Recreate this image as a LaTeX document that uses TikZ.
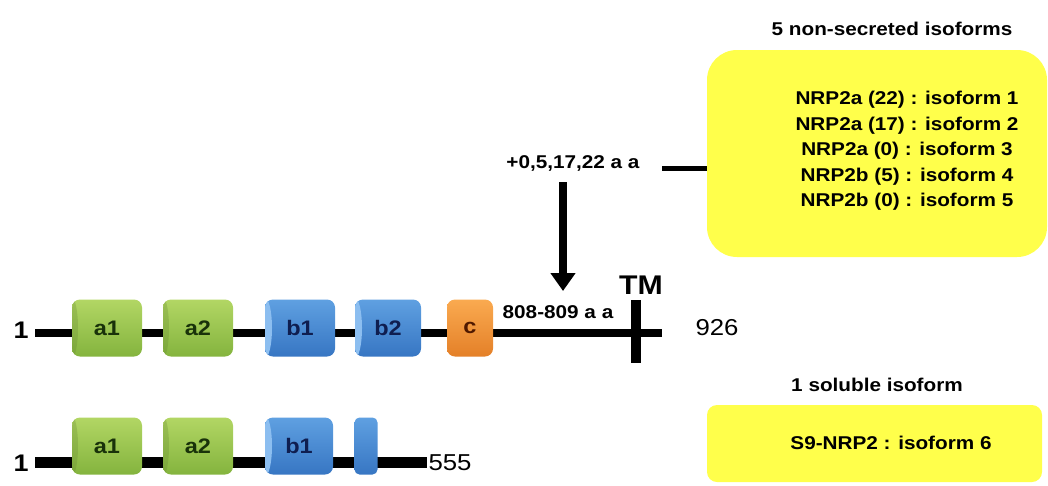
\documentclass[tikz,border=0pt]{standalone}
\usepackage{fontspec}
\setmainfont{Liberation Sans}[FakeStretch=1.12]
\usetikzlibrary{arrows.meta}
\definecolor{grT}{RGB}{178,214,100}
\definecolor{grB}{RGB}{132,180,62}
\definecolor{grTxt}{RGB}{25,50,10}
\definecolor{blT}{RGB}{95,160,225}
\definecolor{blB}{RGB}{55,118,195}
\definecolor{blHi}{RGB}{140,190,240}
\definecolor{blTxt}{RGB}{15,30,80}
\definecolor{orT}{RGB}{250,170,80}
\definecolor{orB}{RGB}{228,128,40}
\definecolor{orTxt}{RGB}{80,25,0}
\definecolor{yel}{RGB}{255,255,75}
\tikzset{
  dom/.style={draw=none, rounded corners=8pt, minimum height=57pt, inner sep=0pt,
    font=\bfseries\fontsize{21}{21}\selectfont},
  gdom/.style={dom, top color=grT, bottom color=grB, text=grTxt,
    path picture={\fill[grB!70!black, opacity=0.25] (path picture bounding box.west) ellipse (6pt and 30pt);}},
  bdom/.style={dom, top color=blT, bottom color=blB, text=blTxt,
    path picture={\fill[blHi] (path picture bounding box.west) ellipse (7pt and 30pt);}},
  odom/.style={dom, top color=orT, bottom color=orB, text=orTxt},
  backbone/.style={line width=8pt},
  lbl/.style={font=\bfseries\fontsize{18.5}{25.5}\selectfont, inner sep=0pt},
  numlbl/.style={font=\fontsize{23}{23}\selectfont, inner sep=0pt},
  yelbox/.style={fill=yel, draw=none},
}
\begin{document}
\begin{tikzpicture}[x=1pt,y=-1pt]
\useasboundingbox (0,0) rectangle (1048,485);

% ---------- top row ----------
\node[font=\bfseries\fontsize{24}{24}\selectfont, inner sep=0pt] (one1) at (21,330) {1};
\node[numlbl] (n926) at (717,328) {926};
\coordinate (s1) at (35,333);
\coordinate (e1) at (662,333);
\draw[backbone] (s1) -- (e1);
\coordinate (tmT) at (636,300);
\coordinate (tmB) at (636,363);
\draw[line width=10pt] (tmT) -- (tmB);
\node[font=\bfseries\fontsize{27}{27}\selectfont, inner sep=0pt] (tm) at (641,285) {TM};

\node[gdom, minimum width=70pt] (a1) at (107,328) {a1};
\node[gdom, minimum width=70pt] (a2) at (198,328) {a2};
\node[bdom, minimum width=70pt] (b1) at (300,328) {b1};
\node[bdom, minimum width=66pt] (b2) at (388,328) {b2};
\node[odom, minimum width=46pt] (c) at (470,328) {c};

\node[lbl] (pos) at (558,312) {808-809 a a};
\node[lbl] (ins) at (573,163) {+0,5,17,22 a a};
\coordinate (arS) at (563,182);
\coordinate (arE) at (563,291);
\draw[line width=8pt, -{Triangle[width=24pt,length=18pt]}] (arS) -- (arE);

% ---------- right boxes ----------
\node[lbl] (t5) at (892,29) {5 non-secreted isoforms};
\path[yelbox, rounded corners=30pt] (707,50) rectangle (1047,257);
\coordinate (boxW) at (707,168);
\coordinate (ln) at (662,168);
\draw[line width=5pt] (ln) -- (boxW);
\node[lbl, align=center] (iso) at (907,151) {NRP2a (22) : isoform 1\\NRP2a (17) : isoform 2\\NRP2a (0) : isoform 3\\NRP2b (5) : isoform 4\\NRP2b (0) : isoform 5};

\node[lbl] (t1) at (877,385) {1 soluble isoform};
\path[yelbox, rounded corners=10pt] (707,405) rectangle (1042,482);
\node[lbl] (iso6) at (891,443) {S9-NRP2 : isoform 6};

% ---------- bottom row ----------
\node[font=\bfseries\fontsize{24}{24}\selectfont, inner sep=0pt] (one2) at (21,463) {1};
\coordinate (s2) at (35,462);
\coordinate (e2) at (427,462);
\draw[line width=11pt] (s2) -- (e2);
\node[numlbl] (n555) at (450,463) {555};
\node[gdom, minimum width=70pt] (ba1) at (107,446) {a1};
\node[gdom, minimum width=70pt] (ba2) at (198,446) {a2};
\node[bdom, minimum width=68pt] (bb1) at (299,446) {b1};
\node[dom, top color=blT, bottom color=blB, minimum width=23pt, rounded corners=5pt] (bb2) at (366,446) {};
\end{tikzpicture}
\end{document}
